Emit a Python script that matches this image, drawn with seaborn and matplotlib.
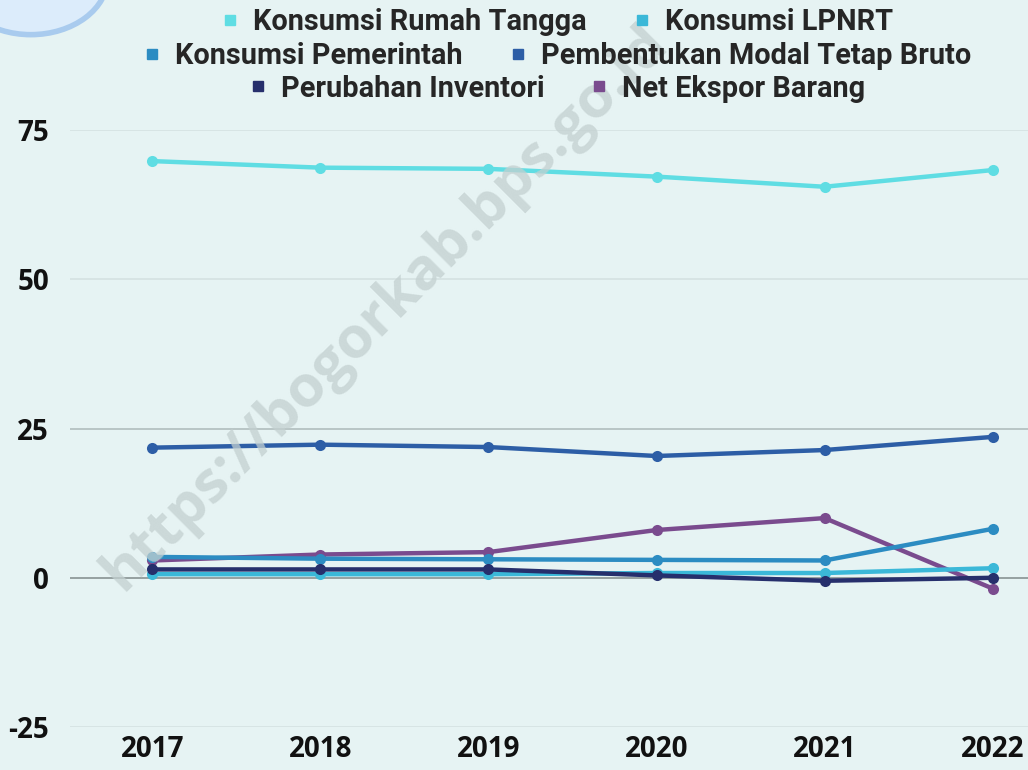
import pandas as pd
import matplotlib.pyplot as plt
import seaborn as sns
from matplotlib.lines import Line2D
from matplotlib.patches import Circle

# data (percent)
years = [2017, 2018, 2019, 2020, 2021, 2022]
rumah_tangga = [69.8, 68.7, 68.5, 67.2, 65.5, 68.3]
lpnrt = [0.6, 0.6, 0.6, 0.8, 0.8, 1.6]
pemerintah = [3.5, 3.2, 3.1, 3.0, 2.9, 8.2]
pmtb = [21.8, 22.3, 21.9, 20.4, 21.4, 23.6]
inventori = [1.4, 1.4, 1.4, 0.4, -0.5, 0.0]
net_ekspor = [2.9, 3.9, 4.3, 8.0, 10.0, -1.8]

names = ["Konsumsi Rumah Tangga", "Konsumsi LPNRT", "Konsumsi Pemerintah",
         "Pembentukan Modal Tetap Bruto", "Perubahan Inventori", "Net Ekspor Barang"]
colors = ["#5fdde3", "#3bb8d8", "#2c8cc2", "#2d5ea6", "#262f6c", "#7a4b8e"]
series = [rumah_tangga, lpnrt, pemerintah, pmtb, inventori, net_ekspor]

bg = "#e6f3f3"
sns.set_style("white")
plt.rcParams["font.family"] = ["Open Sans", "DejaVu Sans"]
plt.rcParams["axes.unicode_minus"] = False

fig = plt.figure(figsize=(10.28, 7.7), dpi=100, facecolor=bg)
ax = fig.add_axes([0.068, 0.0558, 0.932, 0.7753])
ax.set_facecolor(bg)

# decorative cloud top-left
for cx, cy, r in [(0.03, 1.03, 0.075), (0.085, 1.06, 0.055)]:
    fig.patches.append(Circle((cx, cy), r, transform=fig.transFigure,
                              facecolor="#dcecfb", edgecolor="#a9cbee", lw=4, zorder=0))

# grid lines
for v, c in [(75, "#d6e3e3"), (50, "#d6e3e3"), (25, "#b5c2c2"), (0, "#8f9a9a"), (-25, "#d6e3e3")]:
    ax.axhline(v, color=c, lw=1.3, zorder=1)

# watermark
fig.text(0.375, 0.6, "https://bogorkab.bps.go.id", rotation=45, fontsize=42,
         fontweight="bold", color="#c3d0d0", alpha=0.75, ha="center", va="center", zorder=0)

# draw lines (plot order so the low series sit like the original)
order = [0, 3, 5, 2, 1, 4]
for i in order:
    df = pd.DataFrame({"year": years, "value": series[i]})
    sns.lineplot(data=df, x="year", y="value", ax=ax, color=colors[i], lw=3.2,
                 marker="o", markersize=8, markeredgewidth=0, zorder=3)

ax.set_xlim(2016.51, 2022.21)
ax.set_ylim(-25, 75)
ax.set_xticks(years)
ax.set_yticks([-25, 0, 25, 50, 75])
ax.set_xlabel("")
ax.set_ylabel("")
ax.tick_params(axis="both", length=0, labelsize=20, labelcolor="#111111")
ax.tick_params(axis="x", pad=6)
ax.tick_params(axis="y", pad=15)
for lab in ax.get_xticklabels() + ax.get_yticklabels():
    lab.set_fontweight("bold")
for s in ax.spines.values():
    s.set_visible(False)

# legend in three centered rows
rows = [(0, 1), (2, 3), (4, 5)]
ys = [0.971, 0.927, 0.885]
for (a, b), yy in zip(rows, ys):
    handles = [Line2D([], [], ls="", marker="s", markersize=7, color=colors[k]) for k in (a, b)]
    leg = fig.legend(handles, [names[a], names[b]], loc="center", bbox_to_anchor=(0.542, yy),
                     ncol=2, frameon=False, handlelength=0.6, handletextpad=0.5,
                     columnspacing=1.6, borderpad=0,
                     prop={"family": ["Roboto", "DejaVu Sans"],
                           "weight": "bold", "size": 20.8})

fig.savefig("out.png", dpi=100, facecolor=bg)
